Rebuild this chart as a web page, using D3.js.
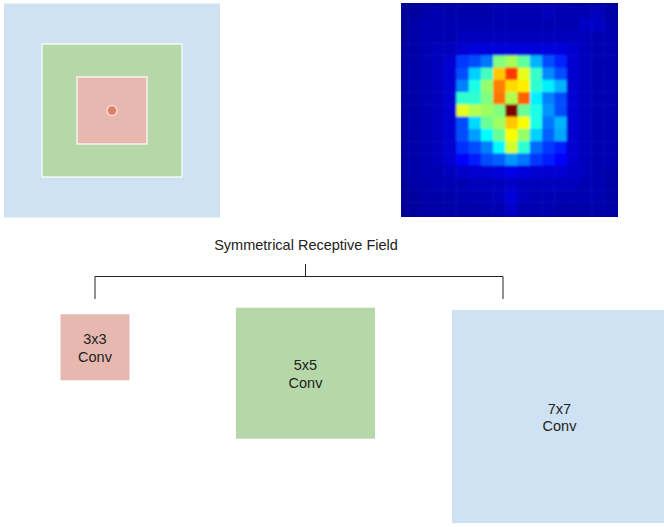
<!DOCTYPE html>
<html lang="en">

<head>
  <meta charset="UTF-8">
  <title>Symmetrical Receptive Field</title>
  <script src="https://d3js.org/d3.v7.min.js"></script>
  <style>
    body {
      margin: 0;
      background: #fff;
    }

    svg {
      display: block;
    }

    .label {
      font-family: "Liberation Sans", Arial, sans-serif;
      font-size: 14.5px;
      fill: #222;
    }

    .tree {
      stroke: #222;
      stroke-width: 1;
      fill: none;
    }
  </style>
</head>

<body>
  <div id="chart"></div>

  <script>
    // kernel sizes and labels
    const kernels = [3, 5, 7];
    const convLabels = ["3x3 Conv", "5x5 Conv", "7x7 Conv"];
    const kernelColors = ["#e6b8af", "#b6d7a8", "#cfe2f3"];
    const title = "Symmetrical Receptive Field";

    // activation map (0-100), 19 x 19 cells
    const activation = [
      [2, 2, 3, 3, 3, 4, 4, 4, 4, 4, 4, 4, 4, 4, 3, 3, 3, 3, 2],
      [2, 3, 4, 5, 4, 4, 4, 4, 5, 5, 5, 5, 6, 5, 5, 5, 6, 4, 3],
      [2, 4, 5, 5, 5, 5, 5, 5, 5, 5, 5, 5, 5, 5, 5, 7, 7, 5, 3],
      [2, 4, 5, 5, 5, 6, 6, 6, 6, 6, 6, 6, 6, 6, 6, 6, 5, 5, 3],
      [3, 4, 5, 6, 6, 8, 9, 9, 9, 9, 9, 9, 9, 9, 8, 6, 5, 5, 3],
      [3, 4, 5, 6, 8, 18, 20, 24, 50, 54, 47, 30, 20, 16, 8, 6, 5, 5, 3],
      [3, 4, 5, 6, 8, 20, 33, 44, 68, 82, 60, 43, 26, 20, 8, 6, 5, 5, 3],
      [3, 4, 5, 6, 8, 25, 40, 52, 75, 66, 64, 42, 36, 30, 8, 6, 5, 5, 3],
      [3, 4, 5, 6, 8, 42, 42, 50, 76, 55, 78, 36, 25, 20, 8, 6, 5, 5, 3],
      [3, 4, 5, 6, 8, 60, 55, 53, 50, 100, 48, 40, 27, 20, 8, 6, 5, 5, 3],
      [3, 4, 5, 6, 8, 20, 34, 48, 53, 68, 62, 40, 24, 30, 8, 6, 5, 5, 3],
      [3, 4, 5, 6, 8, 20, 28, 38, 48, 62, 52, 33, 22, 29, 8, 6, 5, 5, 3],
      [3, 4, 5, 6, 8, 17, 20, 25, 37, 58, 42, 23, 18, 15, 8, 6, 5, 5, 3],
      [3, 4, 5, 6, 8, 13, 15, 20, 22, 27, 24, 18, 15, 13, 8, 6, 5, 5, 3],
      [3, 4, 5, 5, 6, 7, 8, 8, 9, 10, 9, 8, 8, 8, 7, 6, 5, 4, 3],
      [2, 4, 4, 5, 5, 5, 6, 6, 6, 7, 6, 6, 6, 6, 6, 5, 5, 4, 3],
      [2, 3, 4, 4, 4, 5, 5, 5, 6, 9, 6, 5, 5, 5, 5, 5, 5, 4, 3],
      [2, 3, 4, 4, 4, 4, 4, 5, 5, 7, 5, 5, 5, 4, 4, 4, 4, 4, 3],
      [2, 2, 3, 3, 3, 3, 3, 3, 3, 4, 3, 3, 3, 3, 3, 3, 3, 3, 2]
    ];

    const width = 664;
    const height = 527;

    const svg = d3.select("#chart").append("svg")
      .attr("width", width)
      .attr("height", height);

    // ---- left panel: nested receptive fields ----
    const fieldW = d3.scaleOrdinal().domain(kernels).range([70, 140, 216]);
    const fieldH = d3.scaleOrdinal().domain(kernels).range([67, 133, 214]);
    const cx = 112, cy = 110.5;

    svg.append("g")
      .selectAll("rect")
      .data(kernels.slice().reverse())
      .join("rect")
      .attr("x", d => cx - fieldW(d) / 2)
      .attr("y", d => cy - fieldH(d) / 2)
      .attr("width", d => fieldW(d))
      .attr("height", d => fieldH(d))
      .attr("fill", d => kernelColors[kernels.indexOf(d)])
      .attr("stroke", d => d === 7 ? "none" : "#fff")
      .attr("stroke-width", 1.2);

    svg.append("circle")
      .attr("cx", cx)
      .attr("cy", cy)
      .attr("r", 5)
      .attr("fill", "#dd7e6b")
      .attr("stroke", "#f4d8d2")
      .attr("stroke-width", 1.5);

    // ---- right panel: activation heatmap ----
    const jet = d3.scaleLinear()
      .domain([0, 12.5, 37.5, 62.5, 87.5, 100])
      .range(["#000080", "#0000ff", "#00ffff", "#ffff00", "#ff0000", "#800000"])
      .clamp(true);

    const n = activation.length;
    const cell = 12.25;
    const hx = 511.5 - (n / 2) * cell;
    const hy = 110.5 - (n / 2) * cell;

    const xBand = d3.scaleBand().domain(d3.range(n)).range([hx, hx + n * cell]);
    const yBand = d3.scaleBand().domain(d3.range(n)).range([hy, hy + n * cell]);

    const defs = svg.append("defs");
    defs.append("clipPath").attr("id", "heat-clip")
      .append("rect")
      .attr("x", 401).attr("y", 3)
      .attr("width", 217).attr("height", 214);
    defs.append("filter").attr("id", "soft")
      .attr("x", "-5%").attr("y", "-5%").attr("width", "110%").attr("height", "110%")
      .append("feGaussianBlur").attr("stdDeviation", 0.9);

    const cells = activation.flatMap((row, i) => row.map((v, j) => ({ i, j, v })));

    svg.append("g")
      .attr("clip-path", "url(#heat-clip)")
      .append("g")
      .attr("filter", "url(#soft)")
      .selectAll("rect")
      .data(cells)
      .join("rect")
      .attr("x", d => xBand(d.j))
      .attr("y", d => yBand(d.i))
      .attr("width", xBand.bandwidth() + 0.5)
      .attr("height", yBand.bandwidth() + 0.5)
      .attr("fill", d => jet(d.v));

    // ---- tree ----
    svg.append("text")
      .attr("class", "label")
      .attr("x", 306)
      .attr("y", 250)
      .attr("text-anchor", "middle")
      .text(title);

    const branchX = [95, 305.5, 503];
    const stemTop = 264, barY = 276.5, dropY = 299;

    svg.append("path")
      .attr("class", "tree")
      .attr("d", `M${branchX[1]},${stemTop}V${barY}`
        + `M${branchX[0]},${dropY}V${barY}H${branchX[2]}V${dropY}`);

    // ---- conv boxes ----
    const boxSize = d3.scaleOrdinal().domain(kernels).range([69, 139, 212]);
    const boxH = d3.scaleOrdinal().domain(kernels).range([66, 131, 213]);
    const boxX = d3.scaleOrdinal().domain(kernels).range([60.5, 236, 452]);
    const boxY = d3.scaleOrdinal().domain(kernels).range([314.3, 307.7, 310]);

    const boxes = svg.append("g")
      .selectAll("g")
      .data(kernels)
      .join("g")
      .attr("transform", d => `translate(${boxX(d)},${boxY(d)})`);

    boxes.append("rect")
      .attr("width", d => boxSize(d))
      .attr("height", d => boxH(d))
      .attr("fill", (d, i) => kernelColors[i]);

    boxes.append("text")
      .attr("class", "label")
      .attr("text-anchor", "middle")
      .attr("x", d => d === 7 ? 107.5 : boxSize(d) / 2)
      .attr("y", d => boxH(d) / 2 - 3)
      .selectAll("tspan")
      .data((d, i) => convLabels[i].split(" "))
      .join("tspan")
      .attr("x", function () { return this.parentNode.getAttribute("x"); })
      .attr("dy", (d, i) => i === 0 ? 0 : 17.4)
      .text(d => d);
  </script>
</body>

</html>
